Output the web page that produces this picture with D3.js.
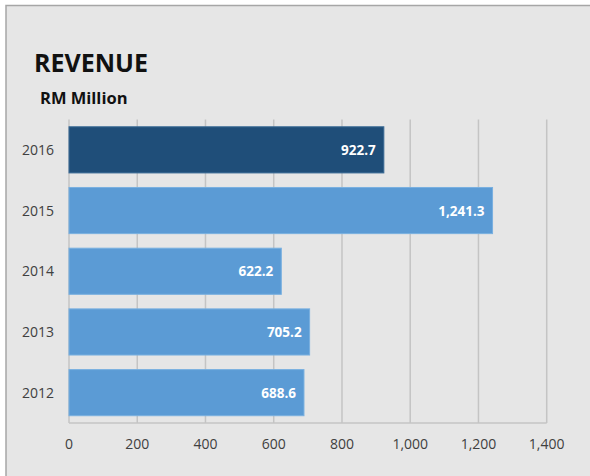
<!DOCTYPE html>
<html lang="en">
<head>
    <meta charset="UTF-8">
    <title>Revenue</title>
    <script src="https://d3js.org/d3.v7.min.js"></script>
    <style>
        body { margin: 0; background: #fff; }
        text { font-family: "Open Sans", sans-serif; }
    </style>
</head>
<body>
<div id="chart"></div>

<script type="text/javascript">
    var width = 590;
    var height = 476;

    var years = ["2016", "2015", "2014", "2013", "2012"];
    var revenue = [922.7, 1241.3, 622.2, 705.2, 688.6];
    var barColors = ["#1f4e79", "#5b9bd5", "#5b9bd5", "#5b9bd5", "#5b9bd5"];
    var xTicks = [0, 200, 400, 600, 800, 1000, 1200, 1400];

    var svg = d3.select("#chart")
        .append("svg")
        .attr("width", width)
        .attr("height", height);

    // panel with a thin gray frame, offset from the top-left corner
    svg.append("rect")
        .attr("x", 6)
        .attr("y", 5.5)
        .attr("width", width)
        .attr("height", height)
        .attr("fill", "#e6e6e6")
        .attr("stroke", "#a6a6a6")
        .attr("stroke-width", 1.5);

    svg.append("text")
        .attr("x", 34)
        .attr("y", 72)
        .attr("font-size", "25px")
        .attr("font-weight", "bold")
        .attr("fill", "#111")
        .text("REVENUE");

    svg.append("text")
        .attr("x", 40)
        .attr("y", 104)
        .attr("font-size", "16.5px")
        .attr("font-weight", "bold")
        .attr("fill", "#111")
        .text("RM Million");

    var x = d3.scaleLinear()
        .domain([0, 1400])
        .range([69, 546.7]);

    var y = d3.scaleBand()
        .domain(years)
        .range([119.5, 423])
        .paddingInner(0.24)
        .paddingOuter(0.12);

    // vertical gridlines
    svg.selectAll(".grid")
        .data(xTicks)
        .enter()
        .append("line")
        .attr("class", "grid")
        .attr("x1", function(d) { return x(d); })
        .attr("x2", function(d) { return x(d); })
        .attr("y1", 119.5)
        .attr("y2", 423)
        .attr("stroke", "#c4c4c4")
        .attr("stroke-width", 1.5);

    // baseline at the bottom
    svg.append("line")
        .attr("x1", x(0))
        .attr("x2", x(1400))
        .attr("y1", 423)
        .attr("y2", 423)
        .attr("stroke", "#c4c4c4")
        .attr("stroke-width", 1.5);

    svg.selectAll(".bar")
        .data(years)
        .enter()
        .append("rect")
        .attr("class", "bar")
        .attr("x", x(0))
        .attr("y", function(d) { return y(d); })
        .attr("width", function(d, i) { return x(revenue[i]) - x(0); })
        .attr("height", y.bandwidth())
        .attr("fill", function(d, i) { return barColors[i]; })
        .attr("stroke", function(d, i) { return i === 0 ? "#3a6a96" : "#79b0e0"; })
        .attr("stroke-width", 1);

    svg.selectAll(".val")
        .data(years)
        .enter()
        .append("text")
        .attr("class", "val")
        .attr("x", function(d, i) { return x(revenue[i]) - 8; })
        .attr("y", function(d) { return y(d) + y.bandwidth() / 2 + 5; })
        .attr("text-anchor", "end")
        .attr("font-size", "13.5px")
        .attr("font-weight", "bold")
        .attr("fill", "#fff")
        .text(function(d, i) { return d3.format(",.1f")(revenue[i]); });

    svg.selectAll(".ylab")
        .data(years)
        .enter()
        .append("text")
        .attr("class", "ylab")
        .attr("x", 38)
        .attr("y", function(d) { return y(d) + y.bandwidth() / 2 + 5; })
        .attr("text-anchor", "middle")
        .attr("font-size", "14px")
        .attr("fill", "#404040")
        .text(function(d) { return d; });

    svg.selectAll(".xlab")
        .data(xTicks)
        .enter()
        .append("text")
        .attr("class", "xlab")
        .attr("x", function(d) { return x(d); })
        .attr("y", 449)
        .attr("text-anchor", "middle")
        .attr("font-size", "14px")
        .attr("fill", "#404040")
        .text(function(d) { return d3.format(",")(d); });
</script>
</body>
</html>
